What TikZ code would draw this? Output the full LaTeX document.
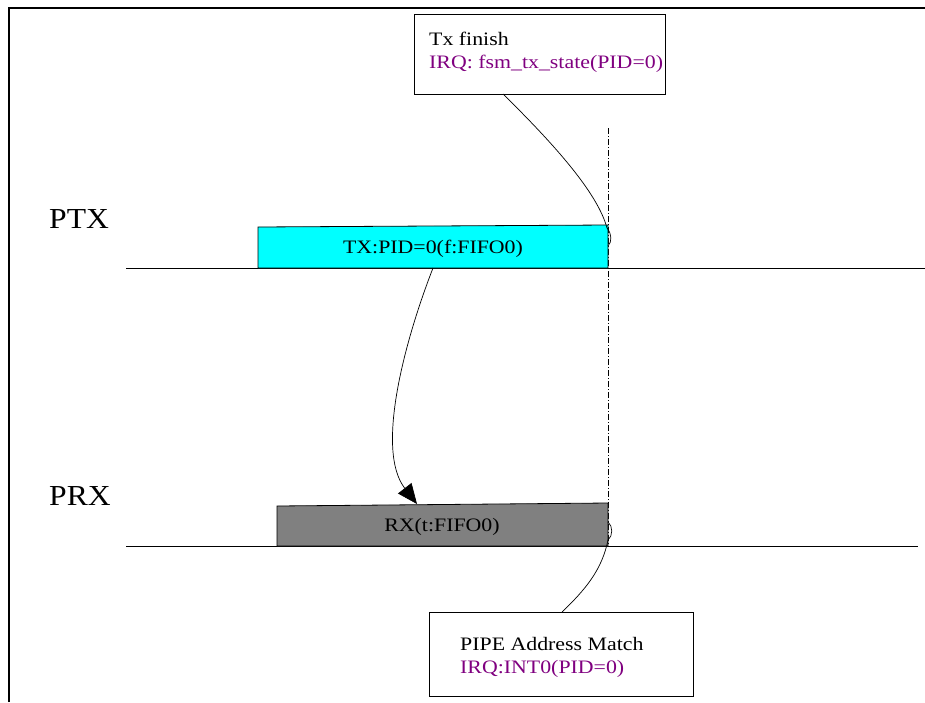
\documentclass[tikz,border=0pt]{standalone}
\usepackage{fontspec}
\setmainfont{Liberation Serif}
\newfontfamily\wideserif[FakeStretch=1.15]{Liberation Serif}
\newfontfamily\labelserif[FakeStretch=1.09]{Liberation Serif}
\usetikzlibrary{arrows.meta}
\definecolor{irq}{HTML}{800080}
\definecolor{txcyan}{HTML}{00FFFF}
\definecolor{rxgray}{HTML}{808080}
\tikzset{
  infobox/.style={draw=black, line width=0.8pt, fill=white},
  slotbox/.style={draw=black, line width=0.8pt},
  lanelabel/.style={font=\labelserif\fontsize{29}{33}\selectfont, anchor=base west, inner sep=0pt},
  boxtext/.style={font=\wideserif\fontsize{19}{23}\selectfont, anchor=base west, inner sep=0pt},
  slottext/.style={font=\wideserif\fontsize{19}{23}\selectfont, anchor=base, inner sep=0pt},
  lane/.style={draw=black, line width=0.6pt},
  conn/.style={draw=black, line width=0.7pt},
  marker/.style={draw=black, line width=0.6pt, dash pattern=on 6pt off 2pt on 1pt off 2pt},
}
\begin{document}
\begin{tikzpicture}[x=1pt,y=-1pt]
\useasboundingbox (0,0) rectangle (925,702);
\fill[white] (0,0) rectangle (925,702);
% frame
\draw[line width=2pt] (9,702) -- (9,8) -- (925,8);
% lanes
\coordinate (ptxL) at (126,268);
\coordinate (ptxR) at (925,268);
\coordinate (prxL) at (126,546);
\coordinate (prxR) at (918,546);
\draw[lane] (ptxL) -- (ptxR);
\draw[lane] (prxL) -- (prxR);
\node[lanelabel] (ptx) at (49,228) {PTX};
\node[lanelabel] (prx) at (49,505) {PRX};
% marker line
\coordinate (mTop) at (608,128);
\coordinate (mBot) at (608,546);
\draw[marker] (mTop) -- (mBot);
% TX slot
\filldraw[slotbox, fill=txcyan] (258,227) -- (608,225) -- (608,268) -- (258,268) -- cycle;
\node[slottext] (txt) at (433,253) {TX:PID=0(f:FIFO0)};
\coordinate (txBot) at (433,268);
% RX slot
\filldraw[slotbox, fill=rxgray] (277,506) -- (608,503) -- (608,546) -- (277,546) -- cycle;
\node[slottext] (rxt) at (442,531) {RX(t:FIFO0)};
\coordinate (rxTop) at (417,504);
% top info box
\draw[infobox] (414,14) rectangle (665,94);
\node[boxtext] (tx1) at (429,45) {Tx finish};
\node[boxtext, text=irq] (tx2) at (429,68) {IRQ: fsm\_tx\_state(PID=0)};
\coordinate (topB) at (503,94);
% bottom info box
\draw[infobox] (429,612) rectangle (693,696);
\node[boxtext] (bx1) at (460,650) {PIPE Address Match};
\node[boxtext, text=irq] (bx2) at (460,673) {IRQ:INT0(PID=0)};
\coordinate (botT) at (562,612);
% connectors
\draw[conn] (topB) .. controls (560,150) and (598,195) .. (607,228)
  .. controls (612,234) and (612,242) .. (608,246);
\draw[conn] (608,522) .. controls (613,526) and (613,536) .. (608,540)
  .. controls (602,570) and (585,590) .. (botT);
\draw[conn, -{Triangle[length=20pt,width=17pt]}] (txBot) .. controls (405,340) and (375,450) .. (rxTop);
\end{tikzpicture}
\end{document}
